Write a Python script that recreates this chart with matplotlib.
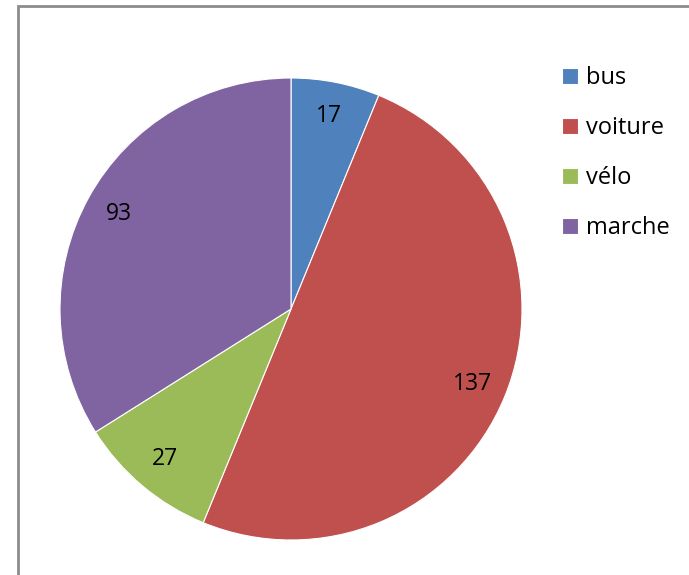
import numpy as np
import matplotlib.pyplot as plt
from matplotlib.patches import Rectangle

labels = ["bus", "voiture", "vélo", "marche"]
values = [17, 137, 27, 93]
colors = ["#4F81BD", "#C0504D", "#9BBB59", "#8064A2"]

plt.rcParams['font.family'] = ['Open Sans', 'DejaVu Sans']

fig = plt.figure(figsize=(6.89, 5.75), dpi=100)

# chart area border (only top and left edges fall inside the image)
fig.patches.append(Rectangle((18 / 689, -0.1), 1.0, 1 - 6 / 575 + 0.1,
                             transform=fig.transFigure, fill=False,
                             edgecolor="#8c8c8c", linewidth=2))

ax = fig.add_axes([60 / 689, 35 / 575, 462 / 689, 462 / 575])
wedges, _ = ax.pie(values, colors=colors, startangle=90, counterclock=False,
                   wedgeprops=dict(edgecolor="white", linewidth=0.8))

# value labels, centred inside each slice
for w, v in zip(wedges, values):
    a = np.deg2rad((w.theta1 + w.theta2) / 2)
    ax.text(0.85 * np.cos(a), 0.85 * np.sin(a), str(v), ha="center", va="center",
            fontsize=16.5, color="black")

ax.set_xlim(-1, 1)
ax.set_ylim(-1, 1)
ax.set_aspect("equal")

fig.legend(wedges, labels, loc="upper left", bbox_to_anchor=(541 / 689, 1 - 45 / 575),
           frameon=False, fontsize=17, handlelength=0.65, handleheight=0.65,
           handletextpad=0.35, labelspacing=1.1)

fig.savefig("out.png", dpi=100)
